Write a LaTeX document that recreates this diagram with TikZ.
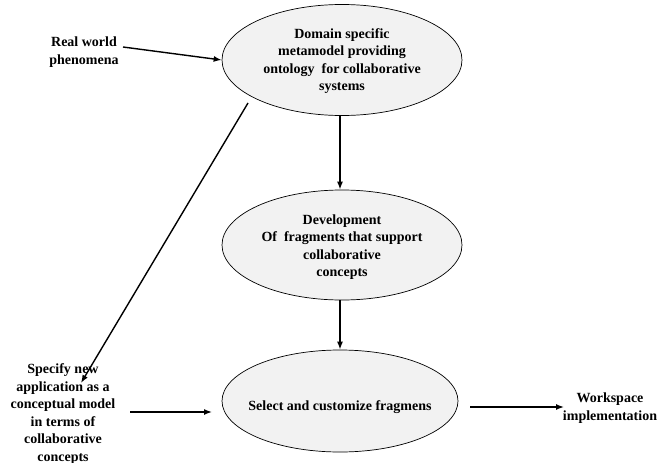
\documentclass[tikz,border=0pt]{standalone}
\usepackage{fontspec}
\setmainfont{Liberation Serif}
\usetikzlibrary{shapes.geometric,arrows.meta}
\begin{document}
\begin{tikzpicture}[x=1pt,y=-1pt,
  every node/.style={font=\fontsize{14}{17.5}\selectfont\bfseries, align=center, inner sep=0pt},
  ell/.style={draw, ellipse, fill=gray!10, line width=0.7pt},
  conn/.style={line width=1.4pt, -{Latex[length=8pt,width=6pt]}}]
\useasboundingbox (0,0) rectangle (664,463);
\node[ell, minimum width=240pt, minimum height=111pt] (e1) at (342,60) {};
\node at (342,61) (t1) {Domain specific\\metamodel providing\\ontology\ \ for collaborative\\systems};
\node[ell, minimum width=240pt, minimum height=110pt] (e2) at (342,245) {};
\node at (342,247) (t2) {Development\\Of\ \ fragments that support\\collaborative\\concepts};
\node[ell, minimum width=236pt, minimum height=102pt] (e3) at (340,401) {};
\node at (340,407) (t3) {Select and customize fragmens};
\node at (84,52) (rw) {Real world\\phenomena};
\node at (63,414) (sp) {Specify new\\application as a\\conceptual model\\in terms of\\collaborative\\concepts};
\node at (610,408) (ws) {Workspace\\implementation};
\coordinate (a1) at (123,47);
\coordinate (d1) at (248,103);
\coordinate (d2) at (81,383);
\coordinate (s1) at (130,412);
\coordinate (s2) at (212,412);
\coordinate (o1) at (470,407);
\coordinate (o2) at (564,407);
\draw[conn] (a1) -- (e1.west);
\draw[conn] (e1.south -| 340,0) -- (e2.north -| 340,0);
\draw[conn] (e2.south -| 340,0) -- (e3.north);
\draw[conn] (d1) -- (d2);
\draw[conn] (s1) -- (s2);
\draw[conn] (o1) -- (o2);
\end{tikzpicture}
\end{document}
